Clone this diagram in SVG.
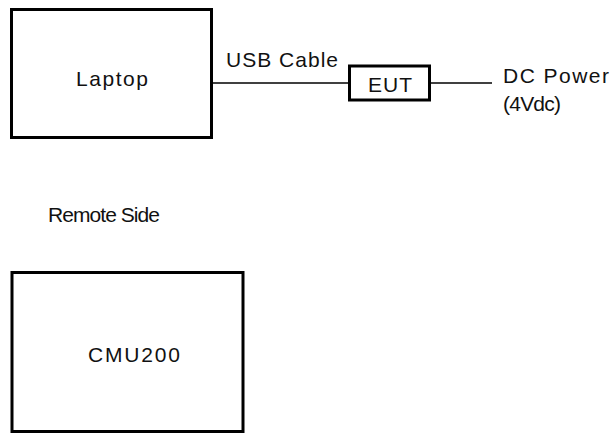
<svg xmlns="http://www.w3.org/2000/svg" width="610" height="433" viewBox="0 0 610 433">
<style>
.box{fill:#fff;stroke:#000;stroke-width:3}
.lbl{font-family:"Liberation Sans",Arial,sans-serif;font-size:21px;fill:#111}
.wire{stroke:#000;stroke-width:1.5;fill:none}
</style>
<rect width="610" height="433" fill="#fff"/>
<g id="connectors">
<line class="wire" x1="213" y1="83" x2="348" y2="83"/>
<line class="wire" x1="431" y1="83" x2="492" y2="83"/>
</g>
<g id="laptop">
<rect class="box" x="11.5" y="9.5" width="200" height="128"/>
<text class="lbl" x="76" y="86" textLength="72" lengthAdjust="spacing">Laptop</text>
</g>
<g id="usb-label">
<text class="lbl" x="226" y="67" textLength="112" lengthAdjust="spacing">USB Cable</text>
</g>
<g id="eut">
<rect class="box" x="349.5" y="66" width="80" height="34"/>
<text class="lbl" x="368" y="92" textLength="44" lengthAdjust="spacing">EUT</text>
</g>
<g id="dc-power">
<text class="lbl" x="503" y="83" textLength="106" lengthAdjust="spacing">DC Power</text>
<text class="lbl" x="503" y="111" textLength="58" lengthAdjust="spacing">(4Vdc)</text>
</g>
<g id="remote-side">
<text class="lbl" x="48" y="222" textLength="112" lengthAdjust="spacing">Remote Side</text>
</g>
<g id="cmu200">
<rect class="box" x="12" y="272.5" width="231" height="159"/>
<text class="lbl" x="88" y="362" textLength="92" lengthAdjust="spacing">CMU200</text>
</g>
</svg>
